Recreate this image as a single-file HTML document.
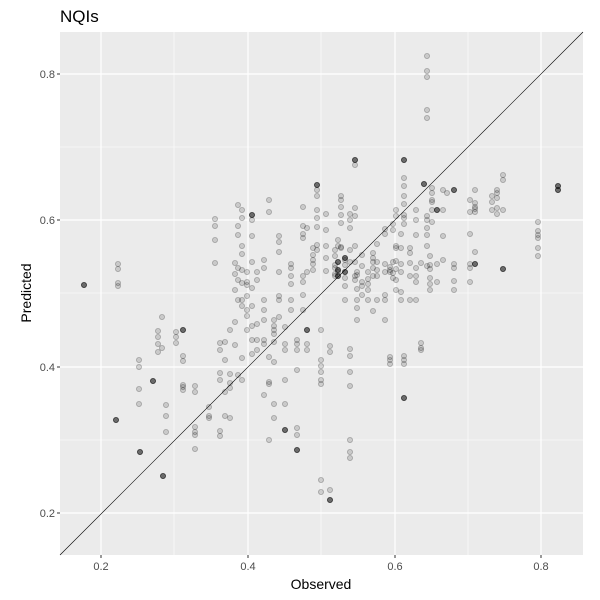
<!DOCTYPE html>
<html><head><meta charset="utf-8"><style>
html,body{margin:0;padding:0;background:#fff;}
svg{display:block;font-family:"Liberation Sans",sans-serif;}
</style></head><body>
<svg id="s" width="600" height="600" viewBox="0 0 600 600">
<rect x="0" y="0" width="600" height="600" fill="#fff"/>
<rect x="60" y="32" width="523" height="523" fill="#ebebeb"/>
<g stroke="#fff" stroke-width="0.6">
<line x1="174" y1="32" x2="174" y2="555"/><line x1="321" y1="32" x2="321" y2="555"/><line x1="468" y1="32" x2="468" y2="555"/>
<line x1="60" y1="147" x2="583" y2="147"/><line x1="60" y1="293" x2="583" y2="293"/><line x1="60" y1="440" x2="583" y2="440"/>
</g>
<g stroke="#fff" stroke-width="1.2">
<line x1="101" y1="32" x2="101" y2="555"/><line x1="248" y1="32" x2="248" y2="555"/><line x1="395" y1="32" x2="395" y2="555"/><line x1="541" y1="32" x2="541" y2="555"/>
<line x1="60" y1="74" x2="583" y2="74"/><line x1="60" y1="220" x2="583" y2="220"/><line x1="60" y1="367" x2="583" y2="367"/><line x1="60" y1="513" x2="583" y2="513"/>
</g>
<g id="pts"></g>
<line x1="60" y1="555" x2="583" y2="32" stroke="#000" stroke-width="0.6"/>
<g fill="#4d4d4d" font-size="11" text-anchor="end">
<text x="55" y="78">0.8</text><text x="55" y="224">0.6</text><text x="55" y="371">0.4</text><text x="55" y="517">0.2</text>
</g>
<g stroke="#333" stroke-width="1">
<line x1="57" y1="74" x2="60" y2="74"/><line x1="57" y1="220" x2="60" y2="220"/><line x1="57" y1="367" x2="60" y2="367"/><line x1="57" y1="513" x2="60" y2="513"/>
<line x1="101" y1="555" x2="101" y2="558"/><line x1="248" y1="555" x2="248" y2="558"/><line x1="395" y1="555" x2="395" y2="558"/><line x1="541" y1="555" x2="541" y2="558"/>
</g>
<g fill="#4d4d4d" font-size="11" text-anchor="middle">
<text x="101" y="570">0.2</text><text x="248" y="570">0.4</text><text x="395" y="570">0.6</text><text x="541" y="570">0.8</text>
</g>
<text x="321" y="589" font-size="14" text-anchor="middle">Observed</text>
<text transform="translate(31,293) rotate(-90)" font-size="14" text-anchor="middle">Predicted</text>
<text x="60" y="22" font-size="17">NQIs</text>
</svg>
<script>
var D={84:"285d",118:"264,269,283,286",116:"420d",139:"360,367,389,404",140:"452d",153:"381d",158:"331,337,344,352",162:"317,348",163:"476d",166:"405,416,432",176:"332,337,343",183:"330d,356,361,385,387,390",195:"386,392,427,432,435,449",209:"407,416,418",215:"219,226,240,263",220:"343,350,373,380,431,436",225:"342,360,392,416",230:"330,374,383,388,418",235:"263,274,290,322,345",238:"205,226,235,268,280,300,375",242:"210,218,246,254,270,283,300,306,358,380",247:"272,282,285,296,310,316,330",252:"215d,220,236,262,288,306,326,340,354",257:"272,280,324,340,350",264:"340,344,260,268,300,310,320,395",269:"357,382,384,440,200,212",274:"334,342,320,326,330,362,404,418",279:"236,242,252,272,296,300,317",285:"327,344,350,380,430d,404",291:"264,268,276,284,300,310",297:"450d,435,428,370,350,340,344",303:"207,226,234,238,276,282,295,310",307:"330d,344,350,272,228",313:"248,255,260,264,270",317:"185d,190,196,210,218,227,245,250",321:"330,380,384,360,366,372,480,492",326:"214,230,246,258,271",330:"490,500d,346,352",335:"250,256,265,268,274,276",338:"262d,270d,276d,240,246,272",341:"196,200,207,215,223,247,248",345:"258d,260,265,272d,278,286,300",350:"214,220,228,250,262,372,386,349,356,440,452,458",355:"160d,165,208,216,246,262,276,280",357:"272,275,289,300,308,320",362:"255,266,282,286,295",368:"272,279,284,300,290",373:"262,268,253,258,276,311",377:"244,262,270,276,300",385:"229,234,264,272,295,300,320",390:"267,272,357,360,364,270",393:"224,230,262,273,278",396:"210,216,246,248,261,269,280,290",401:"234,248,264,272,292,300",404:"160d,178,186,196,204,215,218,224,356,360,364,398d",410:"248,253,263,276,300",416:"300,282,276,210,220,235,268",421:"263,343,348,350",424:"184d",427:"56,71,77,110,118,216,220,228,235,246,266",430:"256,265,269,278,284,290",432:"188,193,200,202,210,222",437:"210d,264,282",443:"190,210,236,260",447:"193",454:"190d,268,281,290,264",470:"200,212,234,264,268,282",475:"190,203,207,209,212,252,264d",492:"196,202,210",497:"190,193,198,208,214",503:"175,180,210,269d",538:"222,231,235,238,248,256",558:"186d,190d"};
var h="";for(var x in D){D[x].split(",").forEach(function(v){var d=v.indexOf("d")>=0;var y=parseFloat(v);
h+='<circle cx="'+x+'" cy="'+y+'" r="2.6" fill="#000" fill-opacity="'+(d?0.55:0.14)+'" stroke="#000" stroke-opacity="'+(d?0.65:0.25)+'" stroke-width="0.8"/>';});}
document.getElementById("pts").innerHTML=h;
</script>
</body></html>
